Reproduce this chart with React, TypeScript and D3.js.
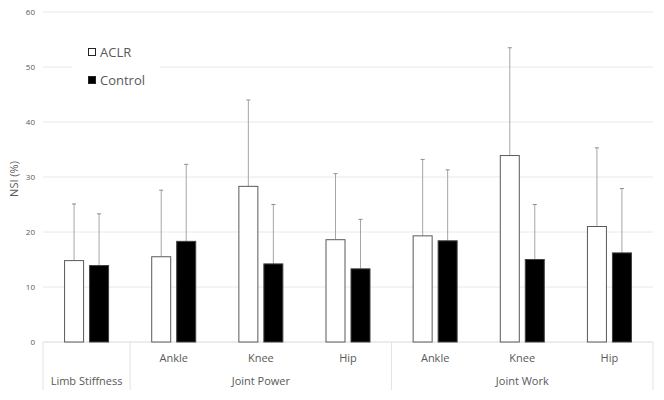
import React, { useEffect, useRef } from 'react';
import * as d3 from 'd3';

const categories = ['Limb Stiffness', 'Ankle', 'Knee', 'Hip', 'Ankle', 'Knee', 'Hip'];
const groupLabels = [
  { label: 'Joint Power', from: 1, to: 3 },
  { label: 'Joint Work', from: 4, to: 6 },
];
const aclrMean = [14.8, 15.5, 28.3, 18.6, 19.3, 33.9, 21.0];
const aclrUpper = [25.1, 27.6, 44.0, 30.6, 33.2, 53.5, 35.3];
const controlMean = [13.9, 18.3, 14.2, 13.3, 18.4, 15.0, 16.2];
const controlUpper = [23.3, 32.3, 25.0, 22.3, 31.3, 25.0, 27.9];
const yTicks = [0, 10, 20, 30, 40, 50, 60];

const W = 664;
const H = 400;

const App: React.FC = () => {
  const svgRef = useRef<SVGSVGElement>(null);

  useEffect(() => {
    if (!svgRef.current) return;
    const svg = d3.select(svgRef.current);
    svg.selectAll('*').remove();

    const left = 43, right = 653, top = 12, bottom = 342;
    const font = "'Open Sans', 'Noto Sans', sans-serif";
    const textColor = '#595959';

    // frame
    svg.append('rect').attr('x', 0).attr('y', 0).attr('width', W).attr('height', H).attr('fill', '#fff');
    svg.append('rect').attr('x', 3.5).attr('y', 0.5).attr('width', 655).attr('height', 396)
      .attr('fill', 'none').attr('stroke', '#e6ebf2').attr('stroke-width', 1);

    const x = d3.scaleBand<number>()
      .domain(d3.range(categories.length))
      .range([left, right])
      .paddingInner(0)
      .paddingOuter(0);
    const y = d3.scaleLinear().domain([0, 60]).range([bottom, top]);

    // gridlines
    svg.append('g').selectAll('line').data(yTicks).enter().append('line')
      .attr('x1', left).attr('x2', right)
      .attr('y1', d => y(d)).attr('y2', d => y(d))
      .attr('stroke', d => d === 0 ? '#d9d9d9' : '#e8e8e8').attr('stroke-width', 1);

    svg.append('g').selectAll('text').data(yTicks).enter().append('text')
      .attr('x', 35).attr('y', d => y(d) + 3)
      .attr('text-anchor', 'end')
      .style('font-family', font).style('font-size', '8px').attr('fill', textColor)
      .text(d => d);

    svg.append('text')
      .attr('transform', `translate(18,${(top + bottom) / 2 + 2}) rotate(-90)`)
      .attr('text-anchor', 'middle')
      .style('font-family', font).style('font-size', '11px').attr('fill', textColor)
      .text('NSI (%)');

    // category axis dividers
    const axisBottom = 390;
    const dividers = [left, x(1)!, x(4)!, right];
    svg.append('g').selectAll('line').data(dividers).enter().append('line')
      .attr('x1', d => d).attr('x2', d => d)
      .attr('y1', bottom).attr('y2', axisBottom)
      .attr('stroke', '#e3e3e3');

    const bw = 20, gap = 5;
    const center = (i: number) => x(i)! + x.bandwidth() / 2;

    const drawSeries = (mean: number[], upper: number[], offset: number, fill: string, stroke: string) => {
      const g = svg.append('g');
      g.selectAll('line.err').data(mean).enter().append('line')
        .attr('x1', (_, i) => center(i) + offset).attr('x2', (_, i) => center(i) + offset)
        .attr('y1', d => y(d)).attr('y2', (_, i) => y(upper[i]))
        .attr('stroke', '#a6a6a6').attr('stroke-width', 1);
      g.selectAll('line.cap').data(upper).enter().append('line')
        .attr('x1', (_, i) => center(i) + offset - 2).attr('x2', (_, i) => center(i) + offset + 2)
        .attr('y1', d => y(d)).attr('y2', d => y(d))
        .attr('stroke', '#8c8c8c').attr('stroke-width', 1);
      g.selectAll('rect').data(mean).enter().append('rect')
        .attr('x', (_, i) => center(i) + offset - bw / 2 + 0.5)
        .attr('y', d => y(d))
        .attr('width', bw - 1)
        .attr('height', d => bottom - y(d))
        .attr('fill', fill).attr('stroke', stroke).attr('stroke-width', 1);
    };

    drawSeries(aclrMean, aclrUpper, -(bw + gap) / 2, '#ffffff', '#595959');
    drawSeries(controlMean, controlUpper, (bw + gap) / 2, '#000000', '#404040');

    // category labels
    svg.append('g').selectAll('text').data(categories).enter().append('text')
      .attr('x', (_, i) => center(i))
      .attr('y', (_, i) => i === 0 ? 385 : 362)
      .attr('text-anchor', 'middle')
      .style('font-family', font).style('font-size', '11px').attr('fill', textColor)
      .text(d => d);

    svg.append('g').selectAll('text').data(groupLabels).enter().append('text')
      .attr('x', d => (x(d.from)! + x(d.to)! + x.bandwidth()) / 2)
      .attr('y', 385)
      .attr('text-anchor', 'middle')
      .style('font-family', font).style('font-size', '11px').attr('fill', textColor)
      .text(d => d.label);

    // legend
    const lg = svg.append('g');
    lg.append('rect').attr('x', 72).attr('y', 40).attr('width', 88).attr('height', 52).attr('fill', '#fff');
    const items = [
      { label: 'ACLR', fill: '#ffffff', yy: 52 },
      { label: 'Control', fill: '#000000', yy: 80 },
    ];
    items.forEach(it => {
      lg.append('rect').attr('x', 88.5).attr('y', it.yy - 3.5).attr('width', 7).attr('height', 7)
        .attr('fill', it.fill).attr('stroke', '#222').attr('stroke-width', 1);
      lg.append('text').attr('x', 100).attr('y', it.yy + 4.5)
        .style('font-family', font).style('font-size', '13px').attr('fill', textColor)
        .text(it.label);
    });
  }, []);

  return (
    <div style={{ margin: -8 }}>
      <svg ref={svgRef} width={W} height={H} style={{ display: 'block' }} />
    </div>
  );
};

export default App;
